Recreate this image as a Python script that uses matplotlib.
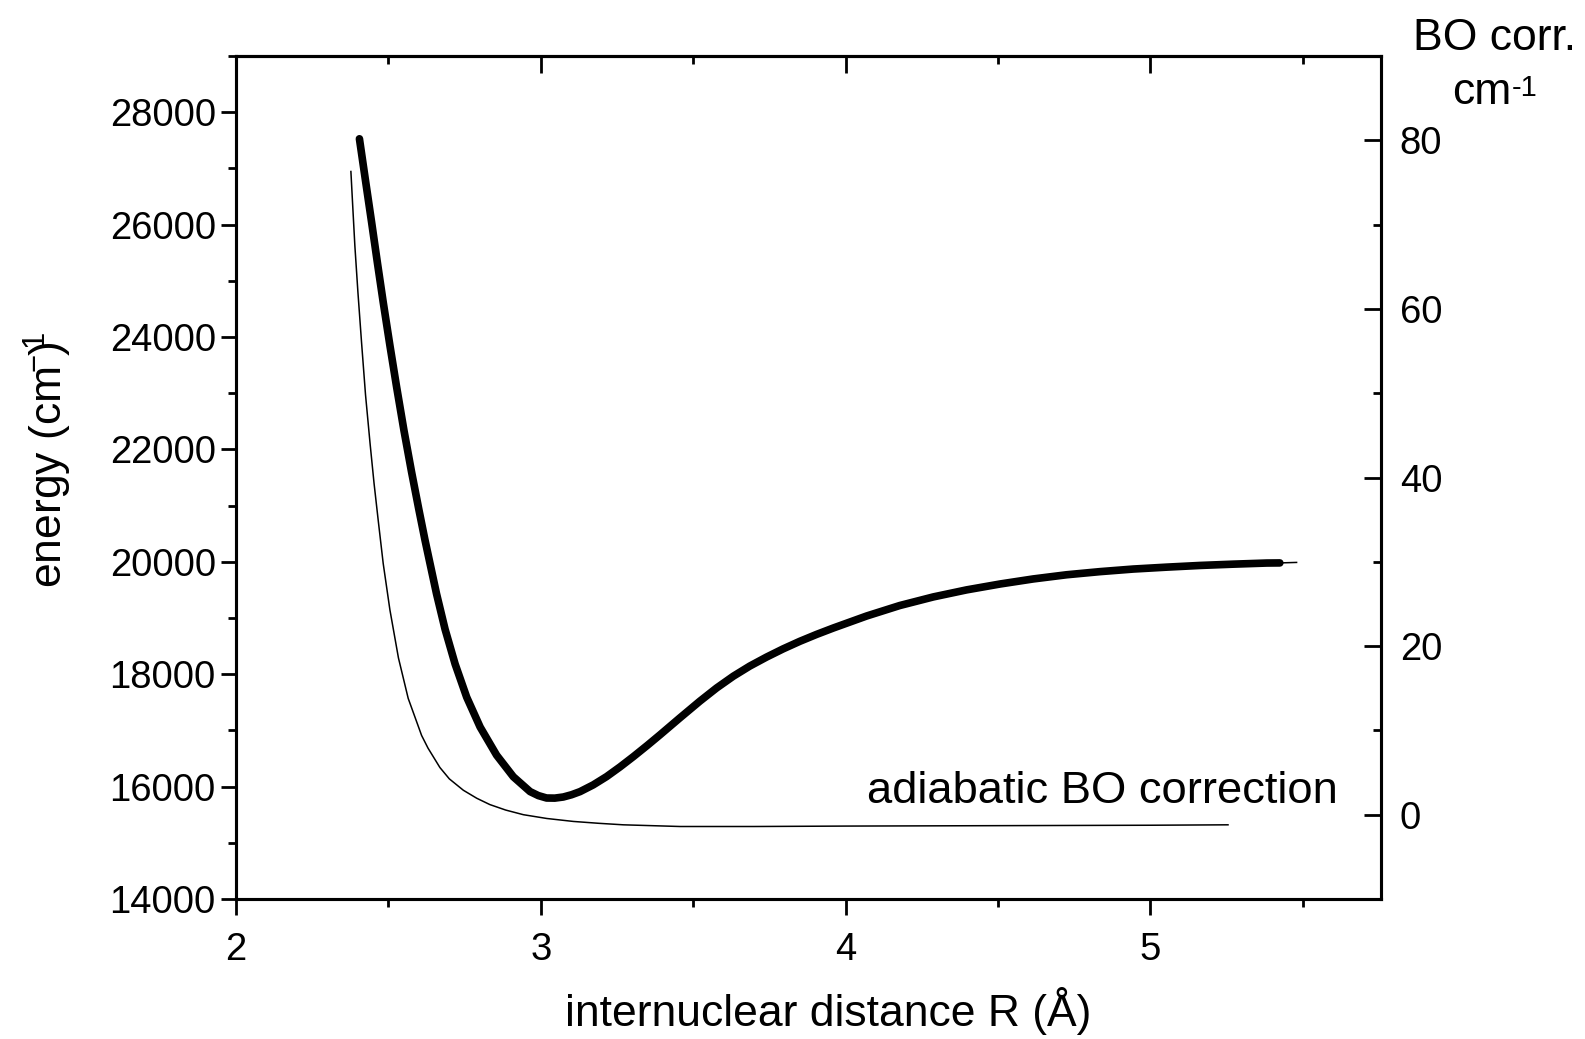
import matplotlib
matplotlib.use("Agg")
import matplotlib.pyplot as plt
from matplotlib.ticker import MultipleLocator

plt.rcParams['font.family'] = ['Liberation Sans', 'DejaVu Sans']
plt.rcParams['mathtext.fontset'] = 'custom'
plt.rcParams['mathtext.rm'] = 'Liberation Sans'
plt.rcParams['mathtext.it'] = 'Liberation Sans:italic'
plt.rcParams['mathtext.default'] = 'regular'

# ---- data ----
# potential energy curve (left axis, cm^-1)
R_pot = [2.405, 2.425, 2.445, 2.464, 2.483, 2.505, 2.527, 2.551, 2.576, 2.600,
         2.620, 2.635, 2.658, 2.686, 2.719, 2.757, 2.801, 2.855, 2.910, 2.965,
         2.992, 3.019, 3.046, 3.074, 3.101, 3.129, 3.172, 3.216, 3.260, 3.304,
         3.350, 3.391, 3.457, 3.522, 3.577, 3.632, 3.686, 3.741, 3.795, 3.850,
         3.905, 3.960, 4.069, 4.178, 4.288, 4.397, 4.507, 4.616, 4.725, 4.835,
         4.944, 5.054, 5.163, 5.272, 5.382, 5.425, 5.480]
E_pot = [27527, 26780, 26040, 25320, 24620, 23850, 23110, 22340, 21600, 20930,
         20390, 20010, 19430, 18800, 18180, 17590, 17060, 16560, 16175, 15911,
         15840, 15797, 15795, 15815, 15855, 15911, 16030, 16178, 16350, 16534,
         16735, 16920, 17225, 17520, 17755, 17965, 18145, 18305, 18450, 18585,
         18708, 18822, 19035, 19222, 19375, 19500, 19605, 19695, 19769, 19825,
         19871, 19905, 19935, 19958, 19978, 19980, 19989]

# adiabatic BO correction (right axis, cm^-1)
R_bo = [2.377, 2.383, 2.390, 2.400, 2.412, 2.425, 2.440, 2.453, 2.467, 2.483,
        2.505, 2.533, 2.565, 2.609, 2.630, 2.669, 2.700, 2.746, 2.790, 2.833,
        2.885, 2.943, 3.020, 3.107, 3.190, 3.271, 3.457, 3.700, 4.000, 4.500,
        5.000, 5.255]
BO = [76.3, 72.2, 67.5, 62.0, 56.0, 49.8, 44.0, 39.3, 34.8, 29.8,
      24.3, 18.6, 13.8, 9.4, 7.9, 5.6, 4.25, 2.9, 1.95, 1.2,
      0.55, 0.0, -0.45, -0.8, -1.02, -1.2, -1.4, -1.4, -1.35, -1.3,
      -1.25, -1.2]

x_ticks = [2, 3, 4, 5]
left_ticks = [14000, 16000, 18000, 20000, 22000, 24000, 26000, 28000]
right_ticks = [0, 20, 40, 60, 80]

W, H = 1585, 1039
fig = plt.figure(figsize=(W / 100, H / 100), dpi=100)
L, R, B, T = 236, 1381, 899, 56
ax = fig.add_axes([L / W, 1 - B / H, (R - L) / W, (B - T) / H])
ax2 = ax.twinx()

ax.set_xlim(2, 5.757)
ax.set_ylim(14000, 29000)
ax2.set_ylim(-10, 90)

# curves
ax.plot(R_pot[:-1], E_pot[:-1], color='black', lw=5.5,
        solid_capstyle='round', solid_joinstyle='round', zorder=3)
ax.plot(R_pot[-2:], E_pot[-2:], color='black', lw=1.1, zorder=3)
ax2.plot(R_bo, BO, color='black', lw=1.1, solid_joinstyle='round')

spw = 2.2
for a in (ax, ax2):
    for s in a.spines.values():
        s.set_linewidth(spw)

# x axis: bottom ticks out
ax.set_xticks(x_ticks)
ax.xaxis.set_minor_locator(MultipleLocator(0.5))
ax.tick_params(axis='x', which='major', direction='out', length=11.5, width=2,
               labelsize=27.5, pad=12, top=False)
ax.tick_params(axis='x', which='minor', direction='out', length=6, width=2, top=False)

# top ticks in
sec = ax.secondary_xaxis('top')
sec.set_xticks(x_ticks)
sec.xaxis.set_minor_locator(MultipleLocator(0.5))
sec.tick_params(axis='x', which='major', direction='in', length=12, width=2, labeltop=False)
sec.tick_params(axis='x', which='minor', direction='in', length=6, width=2)
sec.spines['top'].set_linewidth(spw)

# left axis
ax.set_yticks(left_ticks)
ax.yaxis.set_minor_locator(MultipleLocator(1000))
ax.tick_params(axis='y', which='major', direction='out', length=11, width=2,
               labelsize=27.5, pad=3.5, right=False)
ax.tick_params(axis='y', which='minor', direction='out', length=5.5, width=2, right=False)

# right axis
ax2.set_yticks(right_ticks)
ax2.yaxis.set_minor_locator(MultipleLocator(10))
ax2.tick_params(axis='y', which='major', direction='in', length=12, width=2,
                labelsize=27.5, pad=13.5)
ax2.tick_params(axis='y', which='minor', direction='in', length=6, width=2)

# annotation
ax.text(4.070, 15700, 'adiabatic BO correction', fontsize=32.7,
        ha='left', va='baseline')

# labels
fig.text(828 / W, 1 - 1026 / H, 'internuclear distance R (Å)', fontsize=32,
         ha='center', va='baseline')
fig.text(48 / W, 1 - 460 / H, r'energy (cm$^{\!\!\!-1}\!\!\!\!$)', fontsize=32,
         rotation=90, ha='center', va='center')
fig.text(1495 / W, 1 - 50.5 / H, 'BO corr.', fontsize=32, ha='center', va='baseline')
fig.text(1482 / W, 1 - 104 / H, 'cm', fontsize=32, ha='center', va='baseline')
fig.text(1512 / W, 1 - 96 / H, '-1', fontsize=21, ha='left', va='baseline')

fig.savefig('out.png', dpi=100)
